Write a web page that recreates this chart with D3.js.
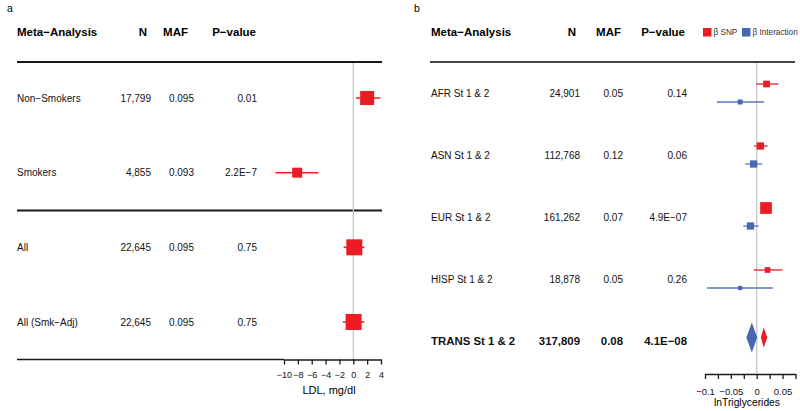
<!DOCTYPE html>
<html><head><meta charset="utf-8">
<script src="https://cdn.jsdelivr.net/npm/d3@7"></script>
<style>
body{margin:0;background:#fff;}
svg{display:block;font-family:"Liberation Sans",Arial,sans-serif;}
</style></head>
<body><svg id="c" width="800" height="411"></svg>
<script>
// ---- Panel a data ----
const aLabels = ["Non−Smokers","Smokers","All","All (Smk−Adj)"];
const aN = ["17,799","4,855","22,645","22,645"];
const aMAF = ["0.095","0.093","0.095","0.095"];
const aP = ["0.01","2.2E−7","0.75","0.75"];
const aBeta = [2.0, -8.1, 0.15, 0.05];
const aLower = [0.4, -11.25, -1.4, -1.5];
const aUpper = [3.9, -5.05, 1.6, 1.6];
const aWeight = [14, 10, 16, 16];
const aTicks = [-10,-8,-6,-4,-2,0,2,4];

// ---- Panel b data ----
const bLabels = ["AFR St 1 & 2","ASN St 1 & 2","EUR St 1 & 2","HISP St 1 & 2","TRANS St 1 & 2"];
const bN = ["24,901","112,768","161,262","18,878","317,809"];
const bMAF = ["0.05","0.12","0.07","0.05","0.08"];
const bP = ["0.14","0.06","4.9E−07","0.26","4.1E−08"];
const snpBeta  = [0.019, 0.007, 0.018, 0.021, 0.0135];
const snpLower = [-0.001, -0.005, 0.011, -0.006, 0.008];
const snpUpper = [0.042, 0.021, 0.025, 0.050, 0.0205];
const snpWeight = [6.7, 7.3, 11.7, 5.7];
const intBeta  = [-0.032, -0.006, -0.012, -0.032, -0.0095];
const intLower = [-0.077, -0.022, -0.026, -0.096, -0.020];
const intUpper = [0.014, 0.011, 0.004, 0.031, 0.001];
const intWeight = [5, 7.3, 7.3, 4.3];
const bTicks = [-0.1,-0.075,-0.05,-0.025,0,0.025,0.05,0.075];
const bTickLabels = ["−0.1","","−0.05","","0","","0.05",""];
const legendLabels = ["β SNP","β Interaction"];

const RED = "#ED1C24", BLUE = "#4767B1", BLUEL = "#5676BD";
const svg = d3.select("#c");
const FONT = 10, HFONT = 11.5;

// ================= Panel a =================
const ga = svg.append("g");
ga.append("text").attr("x",7).attr("y",12).attr("font-size",10.5).text("a");
const xa = d3.scaleLinear().domain([-10,4]).range([284,381]);
const ya = d3.scalePoint().domain(d3.range(aLabels.length)).range([98,322]);
const wa = d3.scaleLinear().domain([0,16]).range([0,16]);

// headers
const hA = [["Meta−Analysis",17,"start"],["N",147,"end"],["MAF",188,"end"],["P−value",256,"end"]];
hA.forEach(h=>ga.append("text").attr("x",h[1]).attr("y",32).attr("dy","0.35em")
  .attr("text-anchor",h[2]).attr("font-size",HFONT).attr("font-weight","bold").text(h[0]));

// horizontal lines
[62,210.5].forEach(y=>ga.append("line").attr("x1",17).attr("x2",382).attr("y1",y).attr("y2",y)
  .attr("stroke","#1a1a1a").attr("stroke-width",1.8));
// reference line
ga.append("line").attr("x1",xa(0)).attr("x2",xa(0)).attr("y1",63).attr("y2",359.5)
  .attr("stroke","#c8c8c8").attr("stroke-width",1.3);
// bottom line + axis
ga.append("line").attr("x1",17).attr("x2",284).attr("y1",359.5).attr("y2",359.5)
  .attr("stroke","#1a1a1a").attr("stroke-width",1.3);
const axA = ga.append("g").attr("transform","translate(0,359.5)")
  .call(d3.axisBottom(xa).tickValues(aTicks).tickSize(5).tickSizeOuter(0).tickPadding(7)
    .tickFormat(d=>d<0?"−"+Math.abs(d):String(d)));
axA.select(".domain").attr("stroke","#1a1a1a").attr("stroke-width",1.3);
axA.selectAll(".tick line").attr("stroke","#1a1a1a").attr("stroke-width",1.3);
axA.selectAll("text").attr("font-size",9).attr("font-family","Liberation Sans,Arial,sans-serif").attr("fill","#111");
ga.append("text").attr("x",329).attr("y",390).attr("dy","0.35em").attr("text-anchor","middle")
  .attr("font-size",11).text("LDL, mg/dl");

// rows
aLabels.forEach((l,i)=>{
  const y = ya(i);
  const row = [[l,17,"start"],[aN[i],151,"end"],[aMAF[i],194,"end"],[aP[i],257,"end"]];
  row.forEach(r=>ga.append("text").attr("x",r[1]).attr("y",y).attr("dy","0.35em")
    .attr("text-anchor",r[2]).attr("font-size",FONT).attr("fill","#111").text(r[0]));
  ga.append("line").attr("x1",xa(aLower[i])).attr("x2",xa(aUpper[i])).attr("y1",y).attr("y2",y)
    .attr("stroke",RED).attr("stroke-width",1.5);
  const s = wa(aWeight[i]);
  ga.append("rect").attr("x",xa(aBeta[i])-s/2).attr("y",y-s/2).attr("width",s).attr("height",s)
    .attr("fill",RED);
});

// ================= Panel b =================
const gb = svg.append("g");
gb.append("text").attr("x",414).attr("y",12).attr("font-size",10.5).text("b");
const xb = d3.scaleLinear().domain([-0.1,0.075]).range([705,795.5]);
const yb = d3.scalePoint().domain(d3.range(bLabels.length)).range([93,341]);
const wb = d3.scaleLinear().domain([0,12]).range([0,12]);

const hB = [["Meta−Analysis",431,"start"],["N",576,"end"],["MAF",621,"end"],["P−value",685,"end"]];
hB.forEach(h=>gb.append("text").attr("x",h[1]).attr("y",32).attr("dy","0.35em")
  .attr("text-anchor",h[2]).attr("font-size",HFONT).attr("font-weight","bold").text(h[0]));

// legend
const legColors = [RED, BLUE];
const legX = [703, 742];
legendLabels.forEach((t,i)=>{
  gb.append("rect").attr("x",legX[i]).attr("y",28).attr("width",8.5).attr("height",8.5).attr("fill",legColors[i]);
  gb.append("text").attr("x",legX[i]+10.5).attr("y",32.3).attr("dy","0.35em").attr("font-size",8.2)
    .attr("fill","#333").text(t);
});

gb.append("line").attr("x1",430).attr("x2",795).attr("y1",62).attr("y2",62)
  .attr("stroke","#444").attr("stroke-width",1.8);
gb.append("line").attr("x1",xb(0)).attr("x2",xb(0)).attr("y1",63).attr("y2",374)
  .attr("stroke","#c8c8c8").attr("stroke-width",1.3);
const axB = gb.append("g").attr("transform","translate(0,374)")
  .call(d3.axisBottom(xb).tickValues(bTicks).tickSize(5).tickSizeOuter(0).tickPadding(9)
    .tickFormat((d,i)=>bTickLabels[i]));
axB.select(".domain").attr("stroke","#1a1a1a").attr("stroke-width",1.3);
axB.selectAll(".tick line").attr("stroke","#1a1a1a").attr("stroke-width",1.3);
axB.selectAll("text").attr("font-size",9.5).attr("font-family","Liberation Sans,Arial,sans-serif").attr("fill","#111");
gb.append("text").attr("x",747).attr("y",402.5).attr("dy","0.35em").attr("text-anchor","middle")
  .attr("font-size",10.3).text("lnTriglycerides");

bLabels.forEach((l,i)=>{
  const y = yb(i);
  const last = i === bLabels.length-1;
  const fs = last ? 11.4 : FONT, fw = last ? "bold" : "normal";
  const row = [[l,431,"start"],[bN[i],580,"end"],[bMAF[i],623,"end"],[bP[i],687,"end"]];
  row.forEach(r=>gb.append("text").attr("x",r[1]).attr("y",y).attr("dy","0.35em")
    .attr("text-anchor",r[2]).attr("font-size",fs).attr("font-weight",fw).attr("fill","#111").text(r[0]));
  if (!last) {
    const yr = y-9, yi = y+9;
    gb.append("line").attr("x1",xb(snpLower[i])).attr("x2",xb(snpUpper[i])).attr("y1",yr).attr("y2",yr)
      .attr("stroke",RED).attr("stroke-width",1.3);
    let s = wb(snpWeight[i]);
    gb.append("rect").attr("x",xb(snpBeta[i])-s/2).attr("y",yr-s/2).attr("width",s).attr("height",s).attr("fill",RED);
    gb.append("line").attr("x1",xb(intLower[i])).attr("x2",xb(intUpper[i])).attr("y1",yi).attr("y2",yi)
      .attr("stroke",BLUEL).attr("stroke-width",1.3);
    s = wb(intWeight[i]);
    gb.append("rect").attr("x",xb(intBeta[i])-s/2).attr("y",yi-s/2).attr("width",s).attr("height",s).attr("fill",BLUE);
  } else {
    const yc = y - 3.5;
    const diamond = (lo,mid,hi,h)=>`M${xb(lo)},${yc} L${xb(mid)},${yc-h/2} L${xb(hi)},${yc} L${xb(mid)},${yc+h/2} Z`;
    gb.append("path").attr("d",diamond(intLower[i],intBeta[i],intUpper[i],30)).attr("fill",BLUE);
    gb.append("path").attr("d",diamond(snpLower[i],snpBeta[i],snpUpper[i],20)).attr("fill",RED);
  }
});
</script>
</body></html>
